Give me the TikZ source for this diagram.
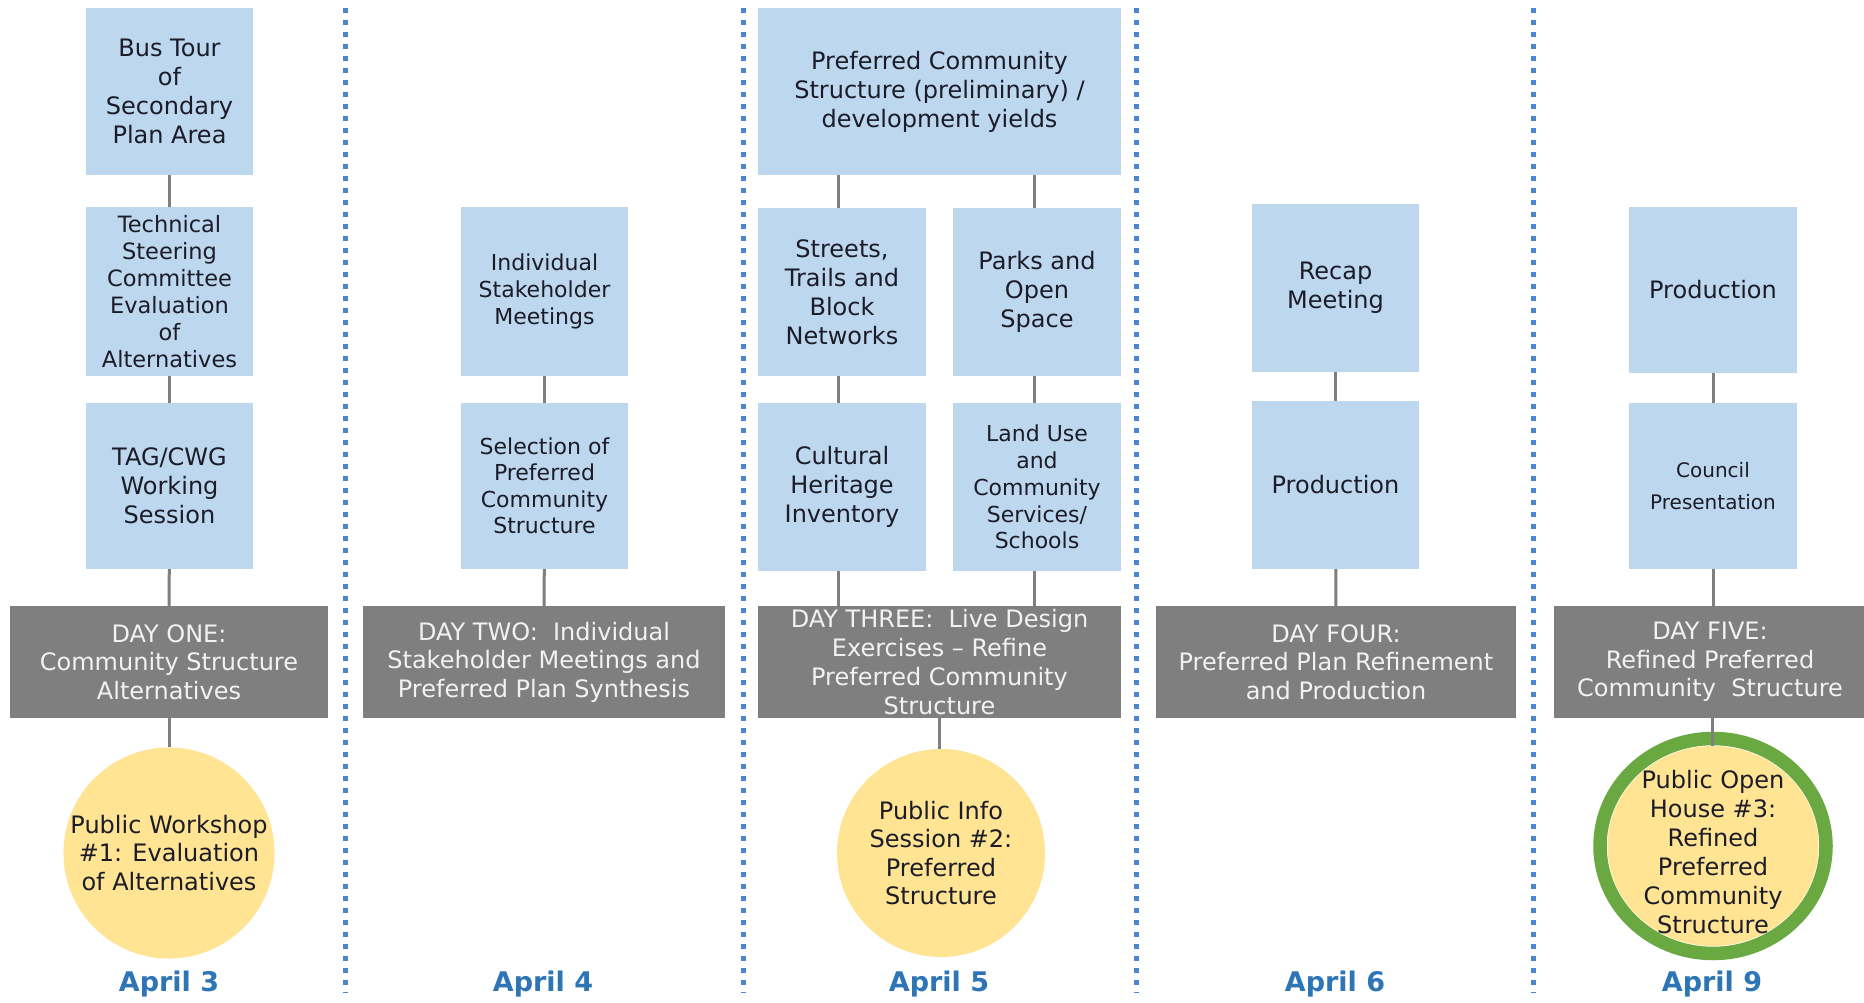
\documentclass[tikz,border=0pt]{standalone}
\usepackage{fontspec}
\usetikzlibrary{shapes.geometric}
\setmainfont{DejaVu Sans}
\definecolor{boxblue}{HTML}{BDD7EE}
\definecolor{boxtext}{HTML}{1C1C28}
\definecolor{dayGray}{HTML}{7F7F7F}
\definecolor{dayText}{HTML}{F2F2F2}
\definecolor{lineGray}{HTML}{7F7F7F}
\definecolor{sepBlue}{HTML}{4A86CF}
\definecolor{dateBlue}{HTML}{2E75B6}
\definecolor{pubYellow}{HTML}{FFE494}
\definecolor{ringGreen}{HTML}{6AA842}
\newcommand{\fs}[2]{\fontsize{#1}{#2}\selectfont}
\tikzset{
  bluebox/.style={fill=boxblue, text=boxtext, inner sep=0pt, align=center, font=\fs{24}{29}},
  graybox/.style={fill=dayGray, text=dayText, inner sep=0pt, align=center, minimum height=112, font=\fs{24}{28.5}},
  pubcircle/.style={circle, fill=pubYellow, text=boxtext, inner sep=0pt, align=center, minimum size=208, font=\fs{24}{28.5}},
  conn/.style={draw=lineGray, line width=3pt},
  sepline/.style={draw=sepBlue, line width=5pt, dash pattern=on 5pt off 7pt},
  datelab/.style={text=dateBlue, inner sep=0pt, font=\bfseries\fs{27}{32}}
}
\begin{document}
\begin{tikzpicture}[x=1pt,y=-1pt]
\useasboundingbox (0,0) rectangle (1864,1003);
\fill[white] (0,0) rectangle (1864,1003);

% separators
\foreach \sx in {345,743,1136,1533}{
  \draw[sepline] (\sx,8) -- (\sx,993);
}

% ---------- Column 1 ----------
\node[bluebox, minimum width=167, minimum height=167] (b11) at (169.5,91.5) {Bus Tour\\of\\Secondary\\Plan Area};
\node[bluebox, minimum width=167, minimum height=169, font=\fs{22.5}{27}] (b12) at (169.5,291.5) {Technical\\Steering\\Committee\\Evaluation\\of\\Alternatives};
\node[bluebox, minimum width=167, minimum height=166] (b13) at (169.5,486) {TAG/CWG\\Working\\Session};
\node[graybox, minimum width=318] (g1) at (169,662) {DAY ONE:\\Community Structure\\Alternatives};
\node[pubcircle] (c1) at (169,853) {Public Workshop\\\#1: Evaluation\\of Alternatives};
\node[datelab] (d1) at (169,984) {April 3};
\draw[conn] (b11) -- (b12);
\draw[conn] (b12) -- (b13);
\draw[conn] (b13) -- (g1);
\draw[conn] (g1) -- (c1);

% ---------- Column 2 ----------
\node[bluebox, minimum width=167, minimum height=169, font=\fs{22}{27}] (b21) at (544.5,291.5) {Individual\\Stakeholder\\Meetings};
\node[bluebox, minimum width=167, minimum height=166, font=\fs{22}{26.5}] (b22) at (544.5,486) {Selection of\\Preferred\\Community\\Structure};
\node[graybox, minimum width=362] (g2) at (544,662) {DAY TWO:\ \ Individual\\Stakeholder Meetings and\\Preferred Plan Synthesis};
\node[datelab] (d2) at (543,984) {April 4};
\draw[conn] (b21) -- (b22);
\draw[conn] (b22) -- (g2);

% ---------- Column 3 ----------
\node[bluebox, minimum width=363, minimum height=167] (b30) at (939.5,91.5) {Preferred Community\\Structure (preliminary) /\\development yields};
\node[bluebox, minimum width=168, minimum height=168] (b3a) at (842,292) {Streets,\\Trails and\\Block\\Networks};
\node[bluebox, minimum width=168, minimum height=168] (b3b) at (1037,292) {Parks and\\Open\\Space};
\node[bluebox, minimum width=168, minimum height=168] (b3c) at (842,487) {Cultural\\Heritage\\Inventory};
\node[bluebox, minimum width=168, minimum height=168, font=\fs{22}{26.8}] (b3d) at (1037,487) {Land Use\\and\\Community\\Services/\\Schools};
\node[graybox, minimum width=363, font=\fs{24}{29}] (g3) at (939.5,662) {DAY THREE:\ \ Live Design\\Exercises – Refine\\Preferred Community\\Structure};
\node[pubcircle] (c3) at (941,853) {Public Info\\Session \#2:\\Preferred\\Structure};
\node[datelab] (d3) at (939,984) {April 5};
\coordinate (xl) at (838,0);
\coordinate (xr) at (1034,0);
\draw[conn] (b30.south -| xl) -- (b3a.north -| xl);
\draw[conn] (b30.south -| xr) -- (b3b.north -| xr);
\draw[conn] (b3a.south -| xl) -- (b3c.north -| xl);
\draw[conn] (b3b.south -| xr) -- (b3d.north -| xr);
\draw[conn] (b3c.south -| xl) -- (g3.north -| xl);
\draw[conn] (b3d.south -| xr) -- (g3.north -| xr);
\coordinate (xm) at (939,0);
\draw[conn] (g3.south -| xm) -- (c3.north -| xm);

% ---------- Column 4 ----------
\node[bluebox, minimum width=167, minimum height=168] (b41) at (1335.5,288) {Recap\\Meeting};
\node[bluebox, minimum width=167, minimum height=168] (b42) at (1335.5,485) {Production};
\node[graybox, minimum width=360] (g4) at (1336,662) {DAY FOUR:\\Preferred Plan Refinement\\and Production};
\node[datelab] (d4) at (1335,984) {April 6};
\draw[conn] (b41) -- (b42);
\draw[conn] (b42) -- (g4);

% ---------- Column 5 ----------
\node[bluebox, minimum width=168, minimum height=166] (b51) at (1713,290) {Production};
\node[bluebox, minimum width=168, minimum height=166, font=\fs{20}{32}] (b52) at (1713,486) {Council\\Presentation};
\node[graybox, minimum width=312] (g5) at (1710,662) {DAY FIVE:\\Refined Preferred\\Community\ \ Structure};
\coordinate (x5) at (1712,0);
\draw[conn] (b51) -- (b52);
\draw[conn] (b52) -- (b52 |- g5.north);
\node[ellipse, draw=ringGreen, line width=13.5pt, fill=white, minimum width=226, minimum height=215, inner sep=0pt] (r5) at (1713,846) {};
\node[ellipse, fill=pubYellow, inner sep=0pt, minimum width=211, minimum height=200] (c5) at (1713,846) {};
\node[text=boxtext, inner sep=0pt, align=center, font=\fs{24}{29}] (t5) at (1713,852) {Public Open\\House \#3:\\Refined\\Preferred\\Community\\Structure};
\draw[conn] (g5.south -| x5) -- (c5.north -| x5);
\node[datelab] (d5) at (1712,984) {April 9};
\end{tikzpicture}
\end{document}
